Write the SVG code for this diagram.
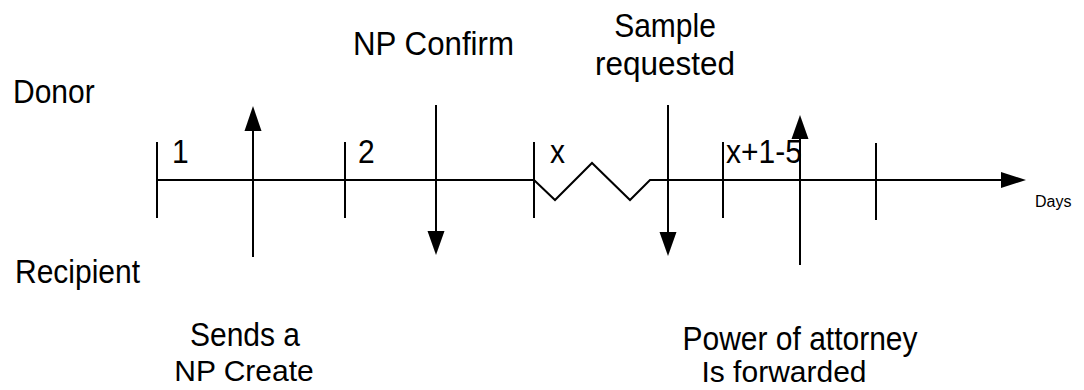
<svg xmlns="http://www.w3.org/2000/svg" width="1084" height="390" viewBox="0 0 1084 390">
<style>
.ln{stroke:#000;stroke-width:2;fill:none}
.t{font-family:"Liberation Sans",Arial,sans-serif;font-size:30px;fill:#000}
.s{font-family:"Liberation Sans",Arial,sans-serif;font-size:16px;fill:#000}
.ah{fill:#000}
</style>
<rect width="1084" height="390" fill="#fff"/>
<g id="connectors">
<path class="ln" d="M157,180 H534 L555,200 L592,163 L630,200 L650,180 H1004"/>
<polygon class="ah" points="1026,180 1001,172 1001,188"/>
<line class="ln" x1="157" y1="142" x2="157" y2="218"/>
<line class="ln" x1="345" y1="142" x2="345" y2="218"/>
<line class="ln" x1="534" y1="142" x2="534" y2="218"/>
<line class="ln" x1="723" y1="142" x2="723" y2="218"/>
<line class="ln" x1="876" y1="143" x2="876" y2="220"/>
<line class="ln" x1="253" y1="257" x2="253" y2="128"/>
<polygon class="ah" points="253,106 244.5,131 261.5,131"/>
<line class="ln" x1="436" y1="105" x2="436" y2="233"/>
<polygon class="ah" points="436,255 427.5,231 444.5,231"/>
<line class="ln" x1="668" y1="105" x2="668" y2="234"/>
<polygon class="ah" points="668,256 659.5,232 676.5,232"/>
<line class="ln" x1="800" y1="265" x2="800" y2="137"/>
<polygon class="ah" points="800,115 791.5,139 808.5,139"/>
</g>
<g id="donor"><text class="t" transform="translate(13,103) scale(1,1.08)">Donor</text></g>
<g id="recipient"><text class="t" transform="translate(15,283) scale(1,1.08)">Recipient</text></g>
<g id="np-confirm"><text class="t" transform="translate(353,55) scale(1,1.08)" textLength="161" lengthAdjust="spacingAndGlyphs">NP Confirm</text></g>
<g id="sample-requested"><text class="t" transform="translate(665,37) scale(1,1.08)" text-anchor="middle">Sample</text><text class="t" transform="translate(665,75) scale(1,1.08)" text-anchor="middle" textLength="140" lengthAdjust="spacingAndGlyphs">requested</text></g>
<g id="label-1"><text class="t" transform="translate(172,163) scale(1,1.08)">1</text></g>
<g id="label-2"><text class="t" transform="translate(358,163) scale(1,1.08)">2</text></g>
<g id="label-x"><text class="t" transform="translate(550,163) scale(1,1.08)">x</text></g>
<g id="label-x15"><text class="t" transform="translate(726,163) scale(1,1.08)">x+1-5</text></g>
<g id="days"><text class="s" x="1035" y="207">Days</text></g>
<g id="sends-np-create"><text class="t" transform="translate(245,346) scale(1,1.08)" text-anchor="middle">Sends a</text><text class="t" x="244" y="381" text-anchor="middle">NP Create</text></g>
<g id="power-of-attorney"><text class="t" transform="translate(800,350) scale(1,1.08)" text-anchor="middle">Power of attorney</text><text class="t" x="784" y="382" text-anchor="middle">Is forwarded</text></g>
</svg>
